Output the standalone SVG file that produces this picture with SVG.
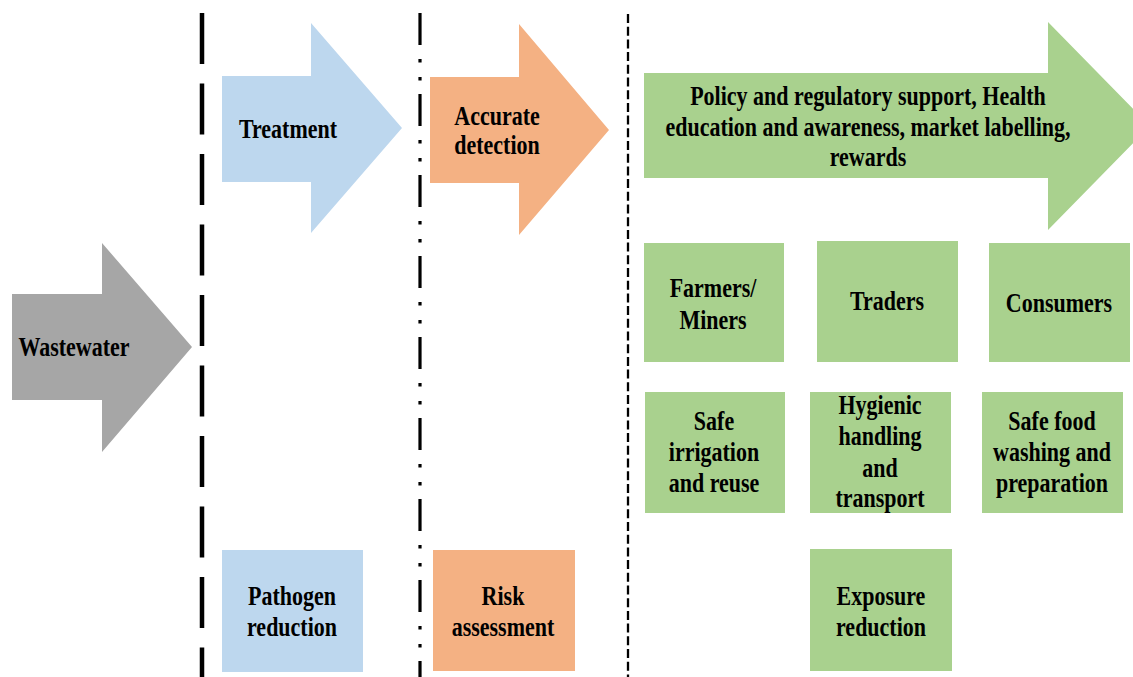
<svg xmlns="http://www.w3.org/2000/svg" width="1133" height="677" viewBox="0 0 1133 677">
<style>
.t{font-weight:700;font-size:22px;fill:#000;text-anchor:middle}
.blue{fill:#BDD7EE}
.orange{fill:#F4B183}
.green{fill:#A9D18E}
.gray{fill:#A6A6A6}
.sep{fill:none;stroke:#000}
</style>
<rect width="1133" height="677" fill="#fff"/>
<g id="separators">
<line class="sep" x1="202" y1="13" x2="202" y2="677" stroke-width="4.5" stroke-dasharray="51 19.5"/>
<line class="sep" x1="420" y1="13" x2="420" y2="677" stroke-width="3.2" stroke-dasharray="32 14 3.5 14.5 3.5 13.5"/>
<line class="sep" x1="628" y1="14" x2="628" y2="677" stroke-width="2.3" stroke-dasharray="9 3.7"/>
</g>
<g font-family="Liberation Serif, serif">
<g id="wastewater">
<polygon class="gray" points="12,294 102,294 102,243 192,347 102,452 102,400 12,400"/>
<g transform="translate(74,347) scale(1,1.2)"><text class="t" x="0" y="7.2">Wastewater</text></g>
</g>
<g id="treatment">
<polygon class="blue" points="222,76 311,76 311,23 402,128 311,233 311,182 222,182"/>
<g transform="translate(288,129) scale(1,1.2)"><text class="t" x="0" y="7.2">Treatment</text></g>
</g>
<g id="accurate-detection">
<polygon class="orange" points="430,77 519,77 519,24 609,130 519,235 519,183 430,183"/>
<g transform="translate(497,130.5) scale(1,1.2)"><text class="t" x="0" y="-4.9">Accurate</text><text class="t" x="0" y="19.3">detection</text></g>
</g>
<g id="policy">
<polygon class="green" points="644,73 1048,73 1048,22 1150,126 1048,230 1048,178 644,178"/>
<g transform="translate(868,127) scale(1,1.2)"><text class="t" x="0" y="-18.4">Policy and regulatory support, Health</text><text class="t" x="0" y="7.2">education and awareness, market labelling,</text><text class="t" x="0" y="32.8">rewards</text></g>
</g>
<g id="farmers">
<rect class="green" x="644" y="243" width="140" height="119"/>
<g transform="translate(713,304) scale(1,1.2)"><text class="t" x="0" y="-6.1">Farmers/</text><text class="t" x="0" y="20.5">Miners</text></g>
</g>
<g id="traders">
<rect class="green" x="817" y="241" width="141" height="121"/>
<g transform="translate(887,301) scale(1,1.2)"><text class="t" x="0" y="7.2">Traders</text></g>
</g>
<g id="consumers">
<rect class="green" x="989" y="243" width="141" height="119"/>
<g transform="translate(1059,303) scale(1,1.2)"><text class="t" x="0" y="7.2">Consumers</text></g>
</g>
<g id="safe-irrigation">
<rect class="green" x="645" y="392" width="140" height="121"/>
<g transform="translate(714,452) scale(1,1.2)"><text class="t" x="0" y="-18.6">Safe</text><text class="t" x="0" y="7.2">irrigation</text><text class="t" x="0" y="33">and reuse</text></g>
</g>
<g id="hygienic-handling">
<rect class="green" x="810" y="392" width="141" height="121"/>
<g transform="translate(880,451.5) scale(1,1.2)"><text class="t" x="0" y="-31.5">Hygienic</text><text class="t" x="0" y="-5.7">handling</text><text class="t" x="0" y="20.9">and</text><text class="t" x="0" y="45.9">transport</text></g>
</g>
<g id="safe-food">
<rect class="green" x="982" y="392" width="141" height="121"/>
<g transform="translate(1052,452) scale(1,1.2)"><text class="t" x="0" y="-18.6">Safe food</text><text class="t" x="0" y="7.2">washing and</text><text class="t" x="0" y="33">preparation</text></g>
</g>
<g id="exposure-reduction">
<rect class="green" x="810" y="549" width="142" height="122"/>
<g transform="translate(881,611.5) scale(1,1.2)"><text class="t" x="0" y="-5.7">Exposure</text><text class="t" x="0" y="20.1">reduction</text></g>
</g>
<g id="pathogen-reduction">
<rect class="blue" x="222" y="550" width="141" height="122"/>
<g transform="translate(292,611.5) scale(1,1.2)"><text class="t" x="0" y="-5.7">Pathogen</text><text class="t" x="0" y="20.1">reduction</text></g>
</g>
<g id="risk-assessment">
<rect class="orange" x="433" y="550" width="142" height="121"/>
<g transform="translate(503,612) scale(1,1.2)"><text class="t" x="0" y="-5.7">Risk</text><text class="t" x="0" y="20.1">assessment</text></g>
</g>
</g>
</svg>
